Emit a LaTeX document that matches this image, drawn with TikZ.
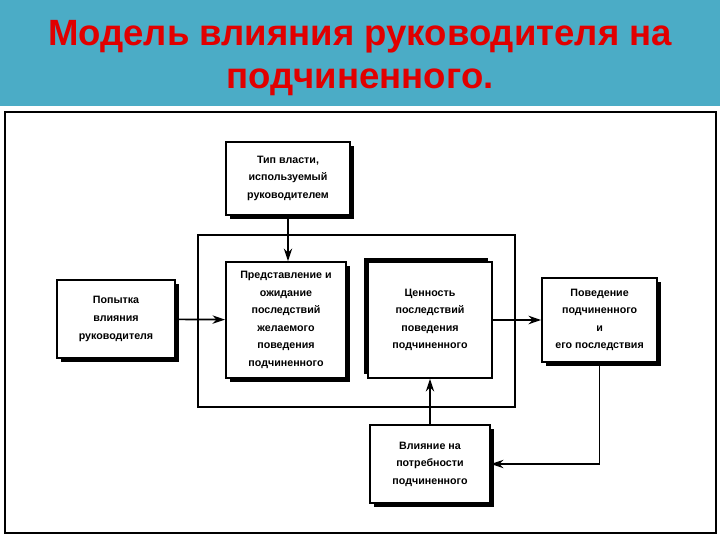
\documentclass[tikz,border=0pt]{standalone}
\usepackage{fontspec}
\setmainfont{Liberation Sans}
\usepackage{tikz}
\usetikzlibrary{arrows.meta, shadows, positioning}
\definecolor{band1}{RGB}{75,172,198}
\definecolor{red1}{RGB}{225,0,0}

\begin{document}
\begin{tikzpicture}[
    plainblock/.style={draw=black, fill=white, line width=1.3pt, align=center, inner sep=2pt,
        font=\fontsize{7.6}{12.5}\selectfont\bfseries},
    block/.style={plainblock,
        drop shadow={opacity=1, fill=black, shadow xshift=3pt, shadow yshift=-3pt}},
    blockup/.style={plainblock,
        drop shadow={opacity=1, fill=black, shadow xshift=-3pt, shadow yshift=3pt}},
    group/.style={draw=black, line width=1.1pt, minimum width=7.925cm, minimum height=4.3cm},
    frame/.style={draw=black, line width=1.1pt, minimum width=17.775cm, minimum height=10.525cm},
    sigarrow/.style={-{Stealth[length=9pt, width=6pt]}, line width=1.2pt, color=black}
]
        \useasboundingbox (0,0) rectangle (18,13.5);
        \fill[white] (0,0) rectangle (18,13.5);
        \fill[band1] (0,10.85) rectangle (18,13.5);

        \node[font=\fontsize{26}{30.5}\selectfont\bfseries, text=red1, align=center, inner sep=0pt, name=title] at(9,12.05)
            {Модель влияния руководителя на\\подчиненного.};

        \node[frame, name=frm] at(9.0125,5.4375) { };
        \node[group, name=grp] at(8.91,5.475) { };

        \node[block, minimum width=3.1cm, minimum height=1.825cm, name=tip] at(7.2,9.04)
            {Тип власти,\\используемый\\руководителем};
        \node[block, minimum width=3.0cm, minimum height=2.9cm, name=pred] at(7.15,5.5)
            {Представление и\\ожидание\\последствий\\желаемого\\поведения\\подчиненного};
        \node[blockup, minimum width=3.1cm, minimum height=2.9cm, name=cen] at(10.75,5.5)
            {Ценность\\последствий\\поведения\\подчиненного};
        \node[block, minimum width=2.95cm, minimum height=1.95cm, name=pop] at(2.9,5.525)
            {Попытка\\влияния\\руководителя};
        \node[block, minimum width=2.875cm, minimum height=2.1cm, name=pov] at(14.99,5.5)
            {Поведение\\подчиненного\\и\\его последствия};
        \node[block, minimum width=3.0cm, minimum height=1.95cm, name=vli] at(10.75,1.9)
            {Влияние на\\потребности\\подчиненного};

        \draw[sigarrow] (tip.south) -- (tip.south |- pred.north);
        \draw[sigarrow] (pop) -- (pred);
        \draw[sigarrow] (cen) -- (pov);
        \draw[sigarrow] (pov.south) |- (vli.east);
        \draw[sigarrow] (vli) -- (cen);
    \end{tikzpicture}
\end{document}
